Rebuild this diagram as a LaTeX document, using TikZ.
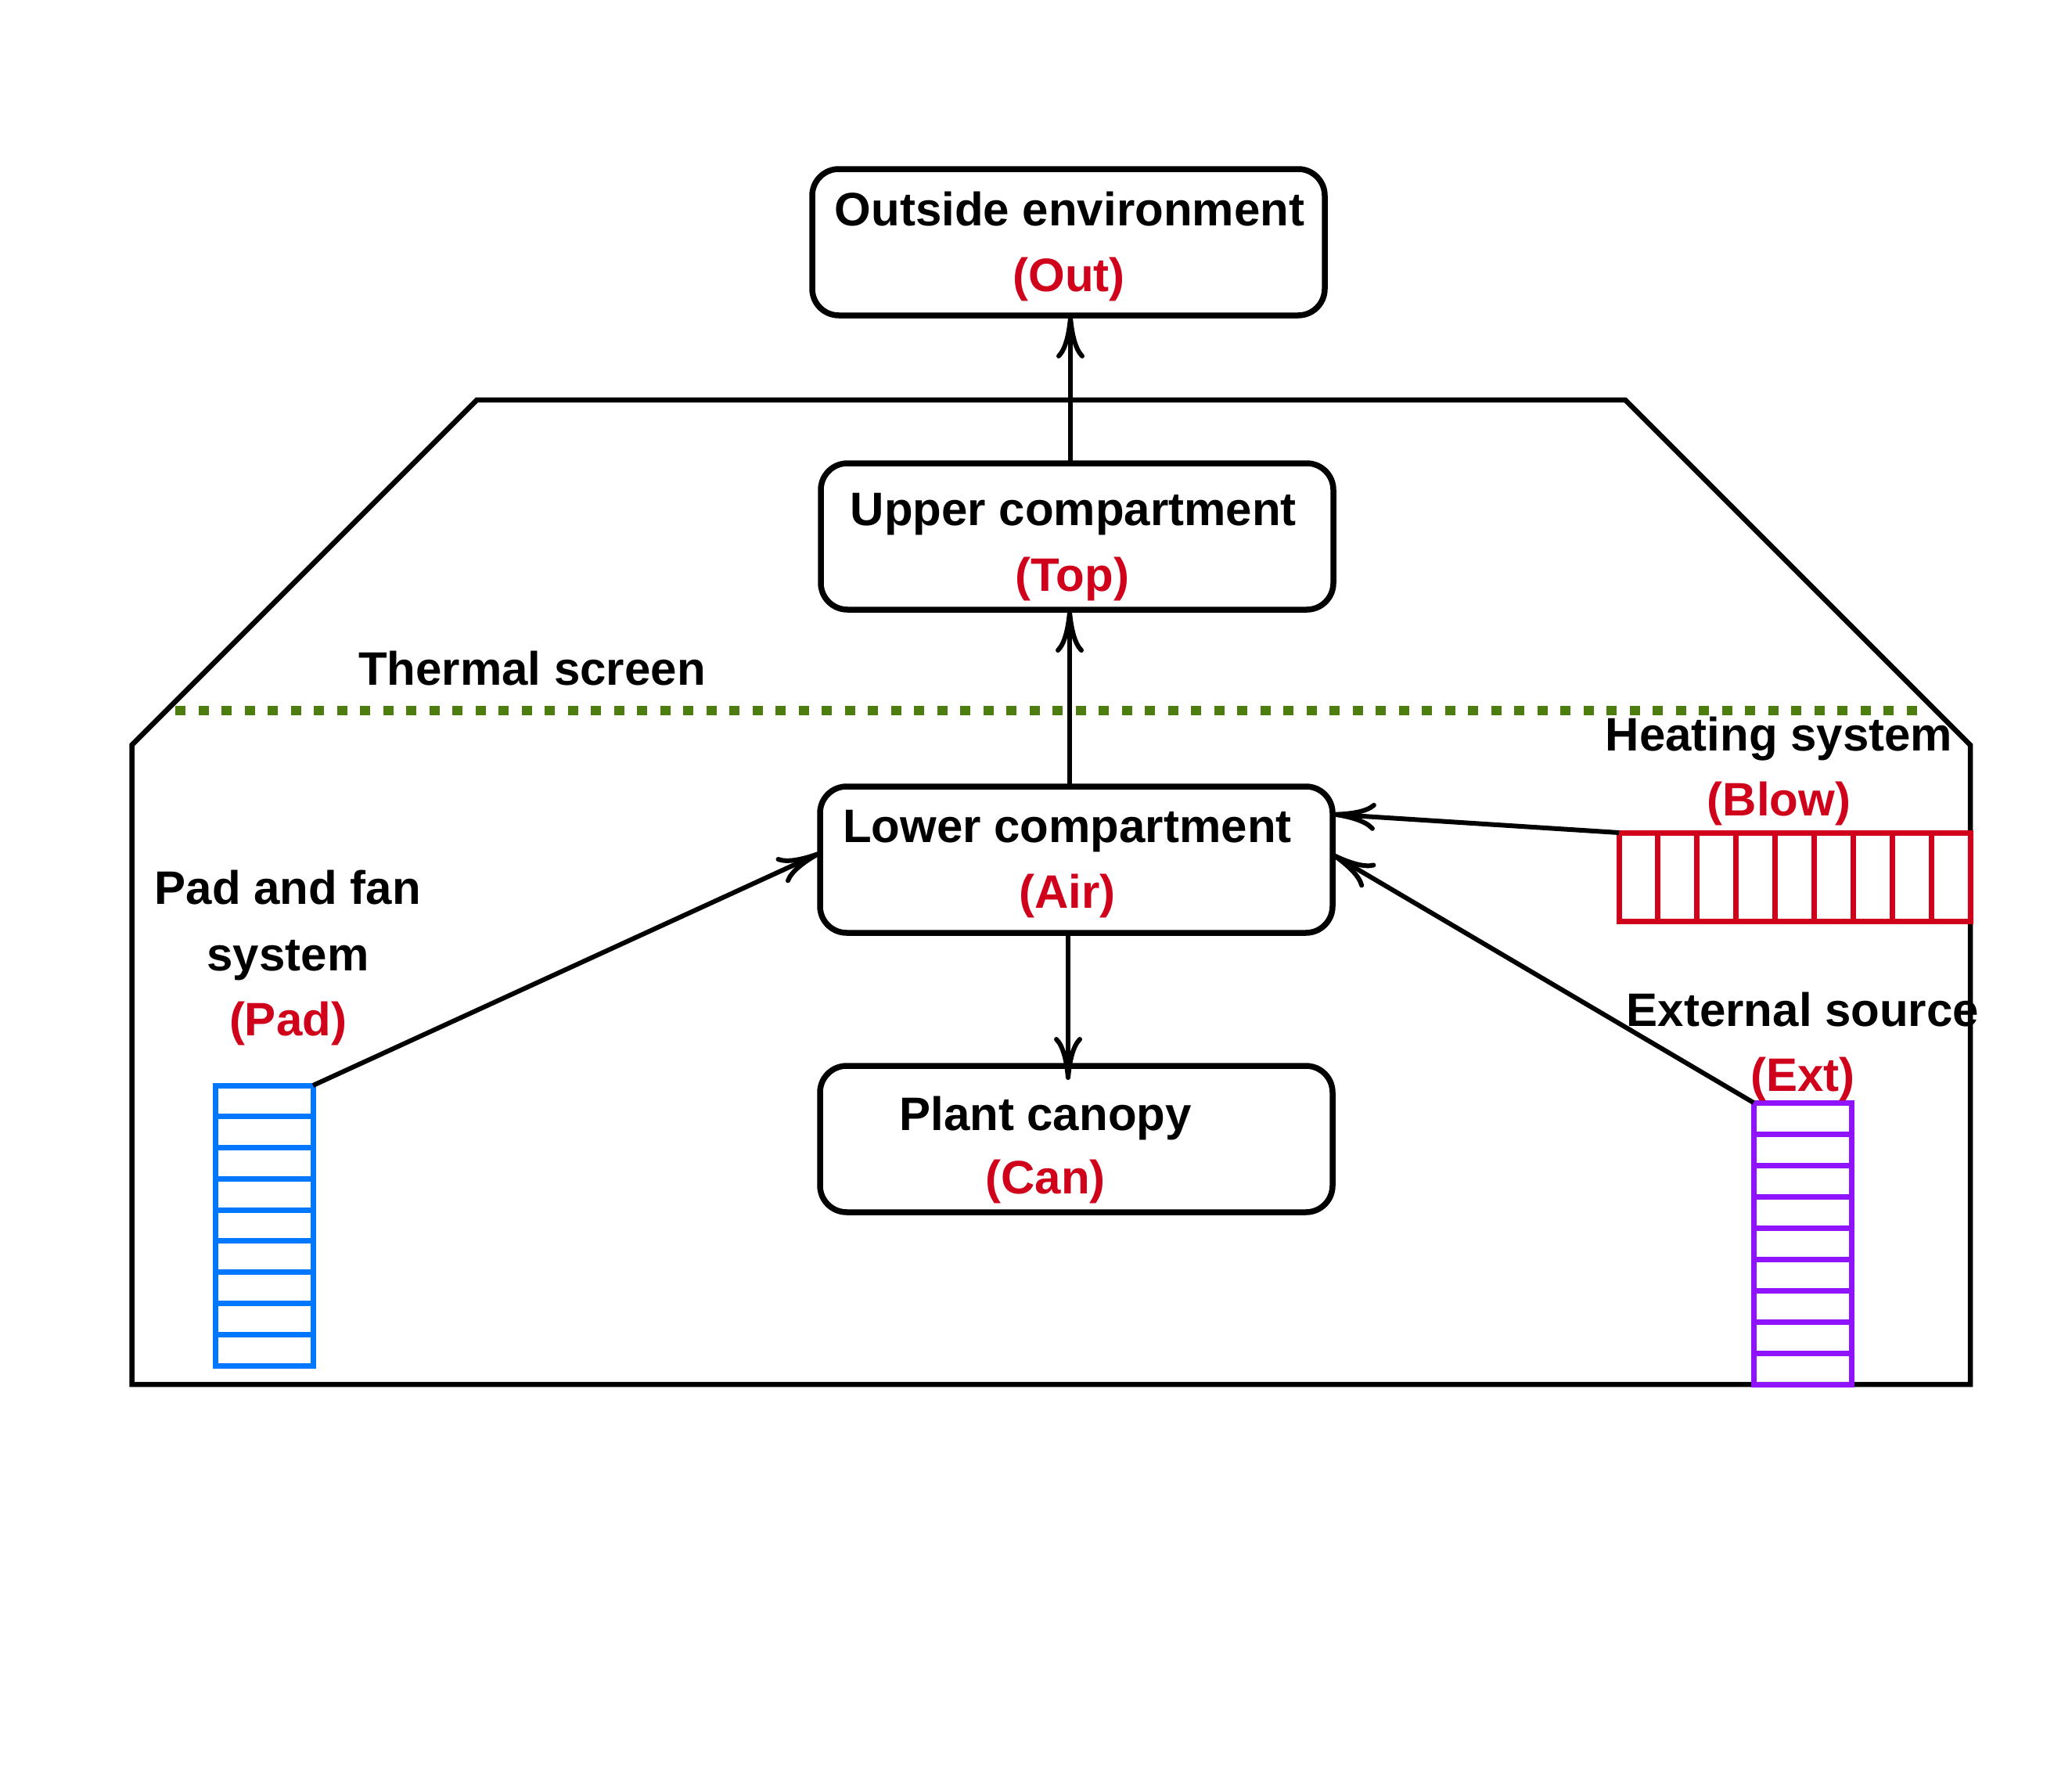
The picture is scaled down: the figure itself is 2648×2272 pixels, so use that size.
\documentclass[tikz,border=0pt]{standalone}
\usepackage{fontspec}
\setmainfont{Liberation Sans}
\usetikzlibrary{arrows.meta}
\definecolor{txtred}{RGB}{208,2,27}
\definecolor{padblue}{RGB}{0,119,255}
\definecolor{extpurple}{RGB}{144,19,254}
\definecolor{screengreen}{RGB}{77,125,14}
\begin{document}
\begin{tikzpicture}[x=1pt,y=-1pt,
  box/.style={draw, line width=7.5pt, rounded corners=34pt, minimum width=655pt, minimum height=187pt, inner sep=0pt, outer sep=0pt},
  lbl/.style={anchor=base, inner sep=0pt, font=\fontsize{60pt}{72pt}\selectfont\bfseries},
  redlbl/.style={lbl, text=txtred},
  arr/.style={line width=6pt, -{Computer Modern Rightarrow[length=55pt,width=36pt]}},
  wall/.style={line width=6.5pt, line join=miter},
  dev/.style={line width=7pt, inner sep=0pt, outer sep=0pt},
  devline/.style={line width=7pt}
]
\useasboundingbox (0,0) rectangle (2648,2272);

% greenhouse outline
\draw[wall] (168.5,952) -- (168.5,1769) -- (2518,1769) -- (2518,952) -- (2077,511) -- (609.5,511) -- cycle;

% thermal screen
\draw[screengreen, line width=12pt, dash pattern=on 13pt off 16.5pt] (224,908) -- (2466,908);

% compartments
\node[box] (out) at (1365.5,309.5) {};
\node[box] (upper) at (1376.5,685.5) {};
\node[box] (lower) at (1375.5,1098.5) {};
\node[box] (plant) at (1375.5,1455.5) {};

% pad and fan
\node[dev, draw=padblue, minimum width=124.5pt, minimum height=358pt] (pad) at (337.75,1566) {};
\foreach \k in {1,...,8} \draw[devline, padblue] (275.5,{1387+\k*358/9}) -- (400,{1387+\k*358/9});

% heating
\node[dev, draw=txtred, minimum width=449pt, minimum height=113pt] (heat) at (2293.5,1120.5) {};
\foreach \k in {1,...,8} \draw[devline, txtred] ({2069+\k*449/9},1064) -- ({2069+\k*449/9},1177);

% external source
\node[dev, draw=extpurple, minimum width=125pt, minimum height=360pt] (ext) at (2303.5,1589) {};
\foreach \k in {1,...,8} \draw[devline, extpurple] (2241,{1409+\k*40}) -- (2366,{1409+\k*40});

% connectors
\coordinate (colA) at (1368,0);
\coordinate (colB) at (1367,0);
\coordinate (colC) at (1365,0);
\coordinate (plantTip) at ([yshift=-18pt]plant.north -| colC);
\draw[arr] (upper.north -| colA) -- (out.south -| colA);
\draw[arr] (lower.north -| colB) -- (upper.south -| colB);
\draw[arr] (lower.south -| colC) -- (plantTip);
\draw[arr] (pad.north east) -- ([yshift=8.5pt]lower.west);
\draw[arr] (heat.north west) -- ([yshift=58pt]lower.east);
\draw[arr] (ext.north west) -- ([yshift=6.5pt]lower.east);

% labels
\node[lbl] (tout) at (1367,288) {Outside environment};
\node[redlbl] (tout2) at (1366,372.5) {(Out)};
\node[lbl] (tup) at (1372,671.5) {Upper compartment};
\node[redlbl] (tup2) at (1370.5,755.5) {(Top)};
\node[lbl] (tlow) at (1364,1076.5) {Lower compartment};
\node[redlbl] (tlow2) at (1364,1160.5) {(Air)};
\node[lbl] (tcan) at (1336,1444.5) {Plant canopy};
\node[redlbl] (tcan2) at (1336,1525.5) {(Can)};
\node[lbl] (tscr) at (680,875.5) {Thermal screen};
\node[lbl] (theat) at (2273.5,959.5) {Heating system};
\node[redlbl] (theat2) at (2273.5,1042.5) {(Blow)};
\node[lbl] (tpad) at (368,1155.5) {Pad and fan};
\node[lbl] (tpad2) at (368,1240) {system};
\node[redlbl] (tpad3) at (368,1323) {(Pad)};
\node[lbl] (text) at (2304,1311) {External source};
\node[redlbl] (text2) at (2304,1394) {(Ext)};
\end{tikzpicture}
\end{document}
